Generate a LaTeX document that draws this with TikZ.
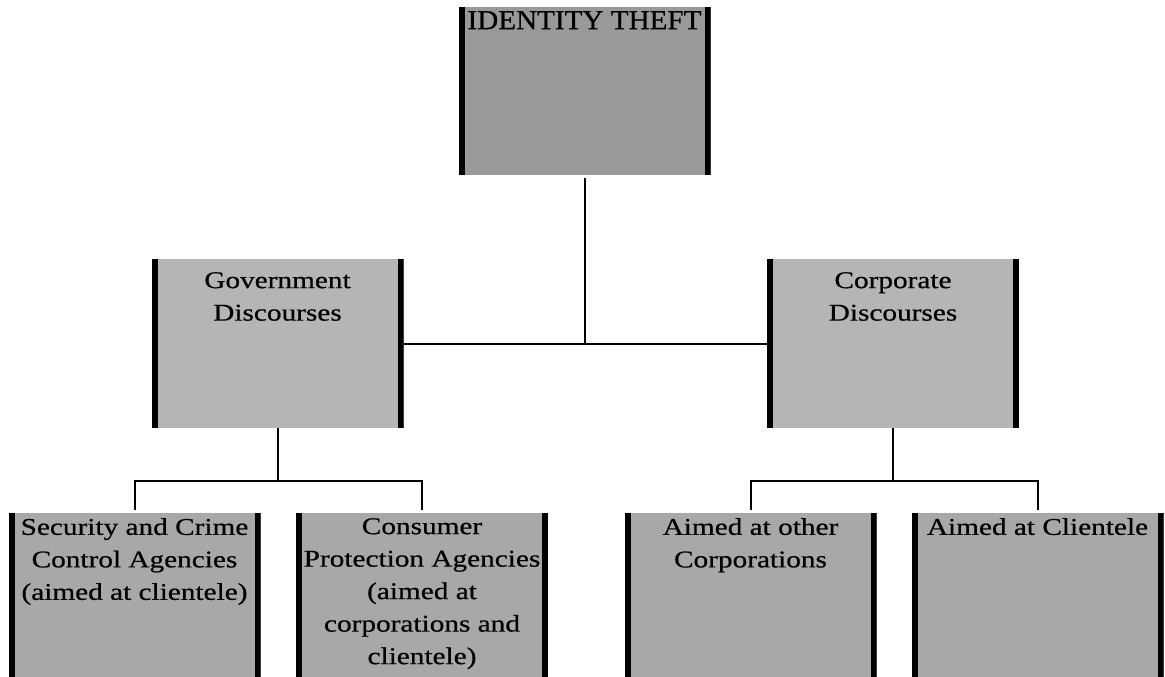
\documentclass[tikz,border=0pt]{standalone}
\usepackage{fontspec}
\newfontfamily\panelfont[FakeStretch=1.22,FakeBold=0.6]{Liberation Serif}
\newfontfamily\titlefont[FakeStretch=1.06,FakeBold=0.8]{Liberation Serif}
\usetikzlibrary{calc}
\tikzset{panel/.style = {anchor=north, minimum width=252pt, inner sep=0pt,
    path picture={
      \fill[black] (path picture bounding box.north west) rectangle ([xshift=6pt]path picture bounding box.south west);
      \fill[black] (path picture bounding box.north east) rectangle ([xshift=-6pt]path picture bounding box.south east);}}}
\tikzset{toppanel/.style = {panel, fill=black!40, minimum height=168pt}}
\tikzset{midpanel/.style = {panel, fill=black!29, minimum height=169pt}}
\tikzset{lowpanel/.style = {panel, fill=black!34, minimum height=164pt}}
\tikzset{paneltext/.style = {anchor=north, inner sep=0pt, align=center, font=\panelfont\fontsize{24}{32.5}\selectfont}}
\tikzset{titletext/.style = {anchor=north, inner sep=0pt, font=\titlefont\fontsize{27.5}{30}\selectfont}}
\tikzset{link/.style = {line width=2pt}}

\begin{document}
\begin{tikzpicture}[x=1pt,y=-1pt]
            \useasboundingbox (0,0) rectangle (1165,677);

            % Boxes
            \node[toppanel, label={[titletext, yshift=-4pt]90:IDENTITY THEFT}] (theft) at (584.5,7) {};
            \node[midpanel, label={[paneltext, yshift=-13pt]90:{Government\\Discourses}}] (gov) at (277.5,259) {};
            \node[midpanel, label={[paneltext, yshift=-13pt]90:{Corporate\\Discourses}}] (corp) at (893,259) {};
            \node[lowpanel, label={[paneltext, yshift=-5pt]90:{Security and Crime\\Control Agencies\\(aimed at clientele)}}] (sec) at (134.5,513) {};
            \node[lowpanel, label={[paneltext, yshift=-5pt]90:{Consumer\\Protection Agencies\\(aimed at\\corporations and\\clientele)}}] (cons) at (422,513) {};
            \node[lowpanel, label={[paneltext, yshift=-5pt]90:{Aimed at other\\Corporations}}] (other) at (750.5,513) {};
            \node[lowpanel, label={[paneltext, yshift=-5pt]90:{Aimed at Clientele}}] (cli) at (1037.5,513) {};

            % Forks
            \coordinate (govfork) at (277.5,481);
            \coordinate (corpfork) at (893,481);

            % Connectors
            % top
            \draw[link] ([yshift=-3pt]theft.south) -- (theft.south |- gov.east);
            \draw[link] (gov.east) -- (corp.west);

            % government
            \draw[link] (gov.south) -- (govfork);
            \draw[link] ([yshift=3pt]sec.north) |- (govfork) -| ([yshift=3pt]cons.north);

            % corporate
            \draw[link] (corp.south) -- (corpfork);
            \draw[link] ([yshift=3pt]other.north) |- (corpfork) -| ([yshift=3pt]cli.north);
        \end{tikzpicture}
\end{document}
